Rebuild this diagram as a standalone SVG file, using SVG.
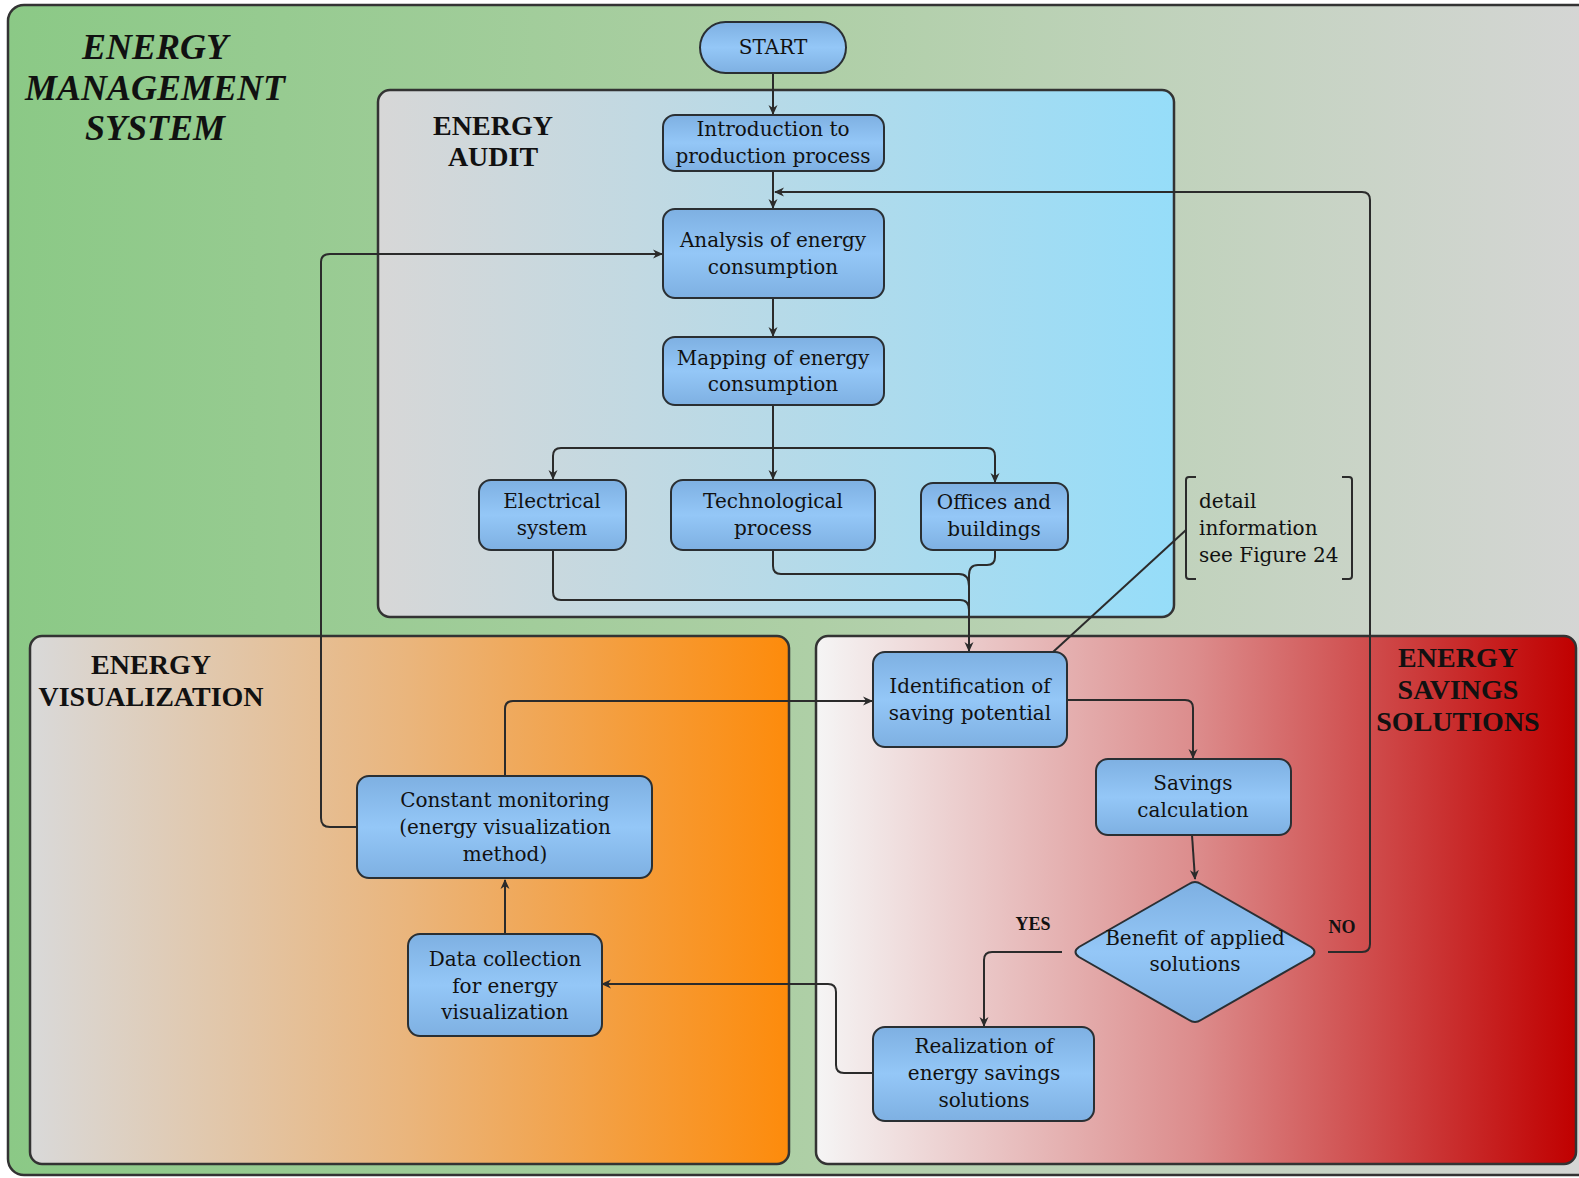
<svg xmlns="http://www.w3.org/2000/svg" width="1579" height="1178" viewBox="0 0 1579 1178">
<defs>
<linearGradient id="gOuter" x1="0" y1="0" x2="1" y2="0">
<stop offset="0" stop-color="#8bc986"/><stop offset="0.5" stop-color="#aecfa6"/><stop offset="1" stop-color="#d6d6d6"/>
</linearGradient>
<linearGradient id="gAudit" x1="0" y1="0" x2="1" y2="0">
<stop offset="0" stop-color="#d7d7d7"/><stop offset="1" stop-color="#96ddf9"/>
</linearGradient>
<linearGradient id="gVis" x1="0" y1="0" x2="1" y2="0">
<stop offset="0" stop-color="#d9d9d9"/><stop offset="0.5" stop-color="#eab57c"/><stop offset="1" stop-color="#fd8b0b"/>
</linearGradient>
<linearGradient id="gSav" x1="0" y1="0" x2="1" y2="0">
<stop offset="0" stop-color="#f5f5f5"/><stop offset="0.5" stop-color="#dc8c8c"/><stop offset="1" stop-color="#c00000"/>
</linearGradient>
<linearGradient id="gNode" x1="0" y1="0" x2="0" y2="1">
<stop offset="0" stop-color="#7eb0e2"/><stop offset="0.5" stop-color="#94c7f7"/><stop offset="1" stop-color="#7eb0e2"/>
</linearGradient>
<marker id="arr" viewBox="0 0 10 10" refX="9" refY="5" markerWidth="10" markerHeight="10" markerUnits="userSpaceOnUse" orient="auto">
<path d="M0,0.5 L10,5 L0,9.5 L3,5 z" fill="#2b2b2b"/>
</marker>
<style>
.region{stroke:#333;stroke-width:2.5}
.node{fill:url(#gNode);stroke:#2a2f33;stroke-width:2}
.t{font-family:"DejaVu Serif","Liberation Serif",serif;font-size:20px;fill:#111;text-anchor:middle}
.title{font-family:"Liberation Serif","Times New Roman",serif;font-weight:bold;font-size:28px;fill:#111;text-anchor:middle}
.lbl{font-family:"Liberation Serif","Times New Roman",serif;font-weight:bold;font-size:18px;fill:#111;text-anchor:middle}
.c{fill:none;stroke:#2b2b2b;stroke-width:2}
.ca{fill:none;stroke:#2b2b2b;stroke-width:2;marker-end:url(#arr)}
</style>
</defs>
<rect x="0" y="0" width="1579" height="1178" fill="#ffffff"/>
<g id="energy-management-system">
<rect x="8" y="5" width="1600" height="1170" rx="16" fill="url(#gOuter)" class="region"/>
<text font-family="Liberation Serif,serif" font-weight="bold" font-style="italic" font-size="36" fill="#111" text-anchor="middle">
<tspan x="155" y="59">ENERGY</tspan><tspan x="155" y="100">MANAGEMENT</tspan><tspan x="155" y="140">SYSTEM</tspan></text>
</g>
<g id="energy-audit">
<rect x="378" y="90" width="796" height="527" rx="12" fill="url(#gAudit)" class="region"/>
<text class="title"><tspan x="493" y="135">ENERGY</tspan><tspan x="493" y="166">AUDIT</tspan></text>
</g>
<g id="energy-visualization">
<rect x="30" y="636" width="759" height="528" rx="12" fill="url(#gVis)" class="region"/>
<text class="title"><tspan x="151" y="674">ENERGY</tspan><tspan x="151" y="706">VISUALIZATION</tspan></text>
</g>
<g id="energy-savings-solutions">
<rect x="816" y="636" width="760" height="528" rx="12" fill="url(#gSav)" class="region"/>
<text class="title"><tspan x="1458" y="667">ENERGY</tspan><tspan x="1458" y="699">SAVINGS</tspan><tspan x="1458" y="731">SOLUTIONS</tspan></text>
</g>
<g id="connectors">
<path class="ca" d="M773,73 V114"/>
<path class="ca" d="M773,171 V208"/>
<path class="ca" d="M1328,952 H1362 Q1370,952 1370,944 V200 Q1370,192 1362,192 H775"/>
<path class="ca" d="M358,827 H330 Q321,827 321,818 V262 Q321,254 330,254 H662"/>
<path class="ca" d="M773,298 V336"/>
<path class="ca" d="M773,405 V479"/>
<path class="ca" d="M773,448 H561 Q553,448 553,456 V479"/>
<path class="ca" d="M773,448 H987 Q995,448 995,456 V482"/>
<path class="c" d="M553,550 V592 Q553,600 561,600 H960 Q969,600 969,610"/>
<path class="c" d="M773,550 V566 Q773,574 781,574 H959 Q969,574 969,586"/>
<path class="c" d="M995,550 V557 Q995,565 987,565 H978 Q969,565 969,575"/>
<path class="ca" d="M969,575 V651"/>
<path class="c" d="M1053,652 L1186,530"/>
<path class="ca" d="M505,776 V709 Q505,701 513,701 H872"/>
<path class="ca" d="M1067,700 H1185 Q1193,700 1193,708 V758"/>
<path class="ca" d="M1192,835 L1195,879"/>
<path class="ca" d="M1062,952 H992 Q984,952 984,960 V1026"/>
<path class="ca" d="M873,1073 H844 Q836,1073 836,1065 V992 Q836,984 828,984 H602"/>
<path class="ca" d="M505,933 V880"/>
<text class="lbl" x="1033" y="930">YES</text>
<text class="lbl" x="1342" y="933">NO</text>
</g>
<g id="start">
<rect x="700" y="22" width="146" height="51" rx="25.5" class="node"/>
<text class="t" x="773" y="54">START</text>
</g>
<g id="introduction">
<rect x="663" y="115" width="221" height="56" rx="12" class="node"/>
<text class="t"><tspan x="773" y="136">Introduction to</tspan><tspan x="773" y="163">production process</tspan></text>
</g>
<g id="analysis">
<rect x="663" y="209" width="221" height="89" rx="12" class="node"/>
<text class="t"><tspan x="773" y="247">Analysis of energy</tspan><tspan x="773" y="274">consumption</tspan></text>
</g>
<g id="mapping">
<rect x="663" y="337" width="221" height="68" rx="12" class="node"/>
<text class="t"><tspan x="773" y="365">Mapping of energy</tspan><tspan x="773" y="391">consumption</tspan></text>
</g>
<g id="electrical">
<rect x="479" y="480" width="147" height="70" rx="12" class="node"/>
<text class="t"><tspan x="552" y="508">Electrical</tspan><tspan x="552" y="535">system</tspan></text>
</g>
<g id="technological">
<rect x="671" y="480" width="204" height="70" rx="12" class="node"/>
<text class="t"><tspan x="773" y="508">Technological</tspan><tspan x="773" y="535">process</tspan></text>
</g>
<g id="offices">
<rect x="921" y="483" width="147" height="67" rx="12" class="node"/>
<text class="t"><tspan x="994" y="509">Offices and</tspan><tspan x="994" y="536">buildings</tspan></text>
</g>
<g id="detail-note">
<path class="c" d="M1196,477 H1189 Q1186,477 1186,480 V576 Q1186,579 1189,579 H1196"/>
<path class="c" d="M1342,477 H1349 Q1352,477 1352,480 V576 Q1352,579 1349,579 H1342"/>
<text class="t" style="text-anchor:start"><tspan x="1199" y="508">detail</tspan><tspan x="1199" y="535">information</tspan><tspan x="1199" y="562">see Figure 24</tspan></text>
</g>
<g id="identification">
<rect x="873" y="652" width="194" height="95" rx="12" class="node"/>
<text class="t"><tspan x="970" y="693">Identification of</tspan><tspan x="970" y="720">saving potential</tspan></text>
</g>
<g id="savings-calculation">
<rect x="1096" y="759" width="195" height="76" rx="12" class="node"/>
<text class="t"><tspan x="1193" y="790">Savings</tspan><tspan x="1193" y="817">calculation</tspan></text>
</g>
<g id="benefit">
<path d="M1189,884 Q1195,880 1201,884 L1311,947 Q1318,952 1311,957 L1201,1020 Q1195,1024 1189,1020 L1079,957 Q1072,952 1079,947 Z" class="node"/>
<text class="t"><tspan x="1195" y="945">Benefit of applied</tspan><tspan x="1195" y="971">solutions</tspan></text>
</g>
<g id="realization">
<rect x="873" y="1027" width="221" height="94" rx="12" class="node"/>
<text class="t"><tspan x="984" y="1053">Realization of</tspan><tspan x="984" y="1080">energy savings</tspan><tspan x="984" y="1107">solutions</tspan></text>
</g>
<g id="constant-monitoring">
<rect x="357" y="776" width="295" height="102" rx="12" class="node"/>
<text class="t"><tspan x="505" y="807">Constant monitoring</tspan><tspan x="505" y="834">(energy visualization</tspan><tspan x="505" y="861">method)</tspan></text>
</g>
<g id="data-collection">
<rect x="408" y="934" width="194" height="102" rx="12" class="node"/>
<text class="t"><tspan x="505" y="966">Data collection</tspan><tspan x="505" y="993">for energy</tspan><tspan x="505" y="1019">visualization</tspan></text>
</g>
</svg>
